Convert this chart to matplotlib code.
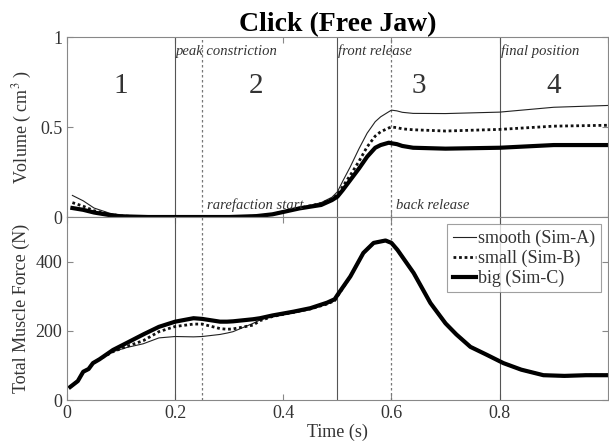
import matplotlib
matplotlib.use("Agg")
import matplotlib.pyplot as plt
import numpy as np

plt.rcParams['font.family'] = ['Liberation Serif', 'DejaVu Serif']
plt.rcParams['mathtext.fontset'] = 'stix'

# Volume data (cm^3)
t_vol = [0.01, 0.03, 0.05, 0.08, 0.10, 0.15, 0.2, 0.3, 0.35, 0.38, 0.43, 0.47, 0.49, 0.50, 0.51, 0.524, 0.54, 0.555, 0.57, 0.58, 0.595, 0.60, 0.61, 0.62, 0.64, 0.70, 0.80, 0.90, 1.00]
vol_smooth = [0.12, 0.09, 0.05, 0.02, 0.01, 0.0, 0.0, 0.0, 0.005, 0.015, 0.05, 0.08, 0.11, 0.14, 0.20, 0.28, 0.38, 0.466, 0.53, 0.557, 0.585, 0.594, 0.59, 0.582, 0.576, 0.575, 0.583, 0.61, 0.62]
vol_small = [0.08, 0.06, 0.035, 0.015, 0.006, 0.0, 0.0, 0.0, 0.005, 0.015, 0.05, 0.075, 0.10, 0.125, 0.17, 0.233, 0.31, 0.39, 0.45, 0.474, 0.495, 0.50, 0.497, 0.49, 0.485, 0.478, 0.487, 0.505, 0.51]
vol_big = [0.05, 0.04, 0.025, 0.01, 0.004, 0.0, 0.0, 0.0, 0.005, 0.015, 0.048, 0.067, 0.094, 0.113, 0.15, 0.206, 0.27, 0.335, 0.385, 0.40, 0.413, 0.41, 0.405, 0.395, 0.385, 0.38, 0.385, 0.40, 0.40]

# Force data (N)
t_frc = [0.006, 0.02, 0.03, 0.04, 0.048, 0.06, 0.085, 0.11, 0.141, 0.17, 0.20, 0.234, 0.25, 0.283, 0.296, 0.307, 0.344, 0.357, 0.38, 0.419, 0.45, 0.481, 0.495, 0.50, 0.524, 0.548, 0.567, 0.589, 0.60, 0.611, 0.641, 0.672, 0.70, 0.72, 0.746, 0.775, 0.807, 0.84, 0.881, 0.92, 0.96, 1.00]
frc_big = [38, 55, 82, 90, 107, 118, 145, 165, 190, 212, 227, 237, 235, 227, 227, 228, 234, 237, 245, 256, 266, 282, 292, 304, 358, 426, 455, 462, 455, 435, 368, 281, 222, 190, 154, 132, 107, 88, 72, 70, 72, 72]
frc_small = [38, 55, 82, 90, 107, 118, 140, 155, 172, 198, 213, 220, 220, 207, 205, 206, 217, 230, 242, 254, 264, 278, 288, 300, 358, 426, 455, 462, 455, 435, 368, 281, 222, 190, 154, 132, 107, 88, 72, 70, 72, 72]
frc_smooth = [38, 55, 82, 90, 107, 118, 140, 152, 163, 180, 184, 183, 184, 190, 194, 198, 222, 232, 245, 254, 264, 278, 288, 300, 358, 426, 455, 462, 455, 435, 368, 281, 222, 190, 154, 132, 107, 88, 72, 70, 72, 72]

solid_events = [0.2, 0.5, 0.8]
dotted_events = [0.25, 0.6]
top_labels = ["peak constriction", "front release", "final position"]
top_label_x = [0.202, 0.502, 0.802]
bottom_labels = ["rarefaction start", "back release"]
bottom_label_x = [0.252, 0.602]
phases = ["1", "2", "3", "4"]
phase_x = [0.1, 0.35, 0.65, 0.9]

fig = plt.figure(figsize=(6.09, 4.47), dpi=100)
ax1 = fig.add_axes([0.110, 0.5145, 0.888, 0.4025])
ax2 = fig.add_axes([0.110, 0.105, 0.888, 0.4095])

tc = '#333333'
for ax in (ax1, ax2):
    for ev in solid_events:
        ax.axvline(ev, color='#555555', lw=0.8)
    for ev in dotted_events:
        ax.axvline(ev, color='#777777', lw=0.9, ls=(0, (2, 2)))
    ax.set_xlim(0, 1)
    ax.tick_params(direction='in', colors='#888888', labelcolor=tc, labelsize=13, top=True, right=True, length=4)
    for s in ax.spines.values():
        s.set_color('#888888')

ax1.plot(t_vol, vol_smooth, color='#222222', lw=0.8)
ax1.plot(t_vol, vol_small, color='#111111', lw=2.0, ls=(0, (1, 1)))
ax1.plot(t_vol, vol_big, color='black', lw=3.0)
ax1.set_ylim(0, 1)
ax1.set_yticks([0, 0.5, 1])
ax1.set_yticklabels(['0', '0.5', '1'])
ax1.set_xticklabels([])
ax1.set_ylabel('Volume ( cm$^3$ )', fontsize=13, color=tc)
ax1.set_title('Click (Free Jaw)', fontsize=20, fontweight='bold', pad=3)

for lab, x in zip(top_labels, top_label_x):
    ax1.text(x, 0.92, lab, style='italic', fontsize=10.5, color=tc, ha='left', va='center')
for lab, x in zip(bottom_labels, bottom_label_x):
    ax1.text(x + 0.006, 0.065, lab, style='italic', fontsize=10.5, color=tc, ha='left', va='center')
for lab, x in zip(phases, phase_x):
    ax1.text(x, 0.73, lab, fontsize=21, color=tc, ha='center', va='center')

ax2.plot(t_frc, frc_smooth, color='#222222', lw=0.8, label='smooth (Sim-A)')
ax2.plot(t_frc, frc_small, color='#111111', lw=2.0, ls=(0, (1, 1)), label='small (Sim-B)')
ax2.plot(t_frc, frc_big, color='black', lw=3.0, label='big (Sim-C)')
ax2.set_ylim(0, 530)
ax2.set_yticks([0, 200, 400])
ax2.set_xticks([0, 0.2, 0.4, 0.6, 0.8])
ax2.set_xticklabels(['0', '0.2', '0.4', '0.6', '0.8'])
ax2.set_ylabel('Total Muscle Force (N)', fontsize=13, color=tc)
ax2.set_xlabel('Time (s)', fontsize=13, color=tc, labelpad=1)
leg = ax2.legend(loc='upper right', fontsize=13, frameon=True, fancybox=False,
                 handlelength=1.3, handletextpad=0.1, borderpad=0.3, labelspacing=0.15,
                 borderaxespad=0.4)
leg.get_frame().set_edgecolor('#888888')
leg.get_frame().set_linewidth(0.8)
for txt in leg.get_texts():
    txt.set_color(tc)

fig.savefig('out.png', dpi=100)
